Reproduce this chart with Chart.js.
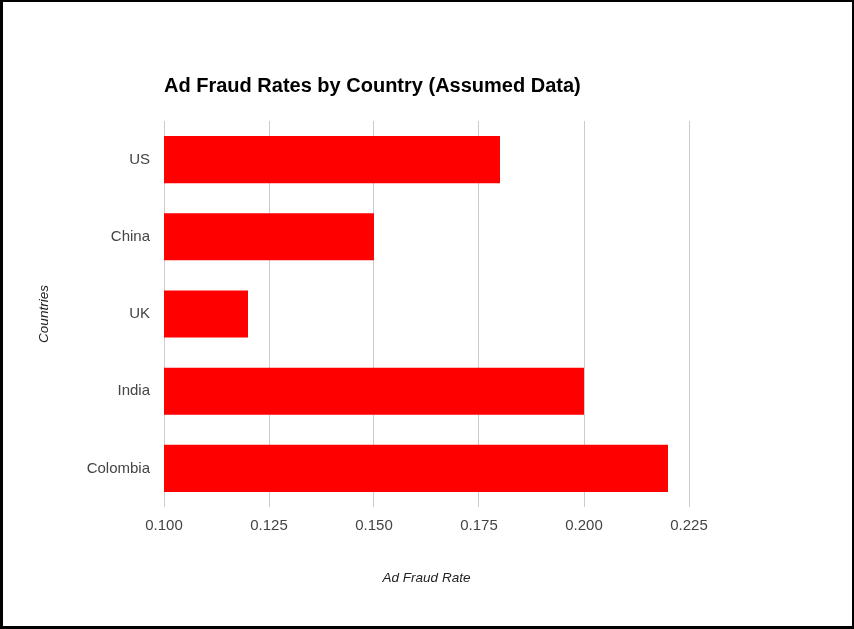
<!DOCTYPE html>
<html>
<head>
<meta charset="utf-8">
<script src="https://cdn.jsdelivr.net/npm/chart.js@4.4.1/dist/chart.umd.min.js"></script>
<style>
  html, body { margin: 0; padding: 0; background: #fff; }
  #wrap { position: relative; width: 854px; height: 629px; }
  #frame {
    position: absolute; left: 0; top: 0; width: 854px; height: 629px;
    box-sizing: border-box; border-style: solid; border-color: #000;
    border-width: 2px 2px 3px 3px; pointer-events: none;
  }
  canvas { position: absolute; left: 0; top: 0; }
</style>
</head>
<body>
<div id="wrap">
  <canvas id="chart" width="854" height="629"></canvas>
  <div id="frame"></div>
</div>
<script>
const countries = ["US", "China", "UK", "India", "Colombia"];
const fraudRates = [0.18, 0.15, 0.12, 0.20, 0.22];
const tickValues = [0.100, 0.125, 0.150, 0.175, 0.200, 0.225];

const chartTitle = "Ad Fraud Rates by Country (Assumed Data)";
const FONT = "'Liberation Sans', Arial, sans-serif";

// title drawn at the left edge of the plot area
const titlePlugin = {
  id: "leftTitle",
  afterDraw(chart) {
    const ctx = chart.ctx;
    ctx.save();
    ctx.font = "bold 20px " + FONT;
    ctx.fillStyle = "#000";
    ctx.textAlign = "left";
    ctx.textBaseline = "alphabetic";
    ctx.fillText(chartTitle, chart.chartArea.left, 92);
    ctx.restore();
  }
};

new Chart(document.getElementById("chart"), {
  type: "bar",
  data: {
    labels: countries,
    datasets: [{
      data: fraudRates,
      backgroundColor: "#ff0000",
      borderWidth: 0,
      categoryPercentage: 0.61,
      barPercentage: 1
    }]
  },
  options: {
    indexAxis: "y",
    responsive: false,
    animation: false,
    devicePixelRatio: 1,
    layout: { padding: { left: 30, right: 165, top: 121, bottom: 40 } },
    plugins: {
      legend: { display: false },
      tooltip: { enabled: false }
    },
    scales: {
      x: {
        min: tickValues[0],
        max: tickValues[tickValues.length - 1],
        afterBuildTicks(scale) {
          scale.ticks = tickValues.map(v => ({ value: v }));
        },
        afterFit(scale) { scale.height = 82; },
        ticks: {
          callback: v => Number(v).toFixed(3),
          color: "#444",
          font: { family: FONT, size: 15 },
          padding: 10,
          maxRotation: 0
        },
        grid: { color: "#cccccc", drawTicks: false },
        border: { display: false },
        title: {
          display: true,
          text: "Ad Fraud Rate",
          color: "#222",
          font: { family: FONT, size: 13.5, style: "italic" },
          padding: { top: 0, bottom: 3 }
        }
      },
      y: {
        afterFit(scale) { scale.width = 134; },
        ticks: {
          color: "#444",
          font: { family: FONT, size: 15 },
          padding: 14
        },
        grid: { display: false, drawTicks: false },
        border: { display: false },
        title: {
          display: true,
          text: "Countries",
          color: "#222",
          font: { family: FONT, size: 13.5, style: "italic" },
          padding: { top: 6, bottom: 0 }
        }
      }
    }
  },
  plugins: [titlePlugin]
});
</script>
</body>
</html>
